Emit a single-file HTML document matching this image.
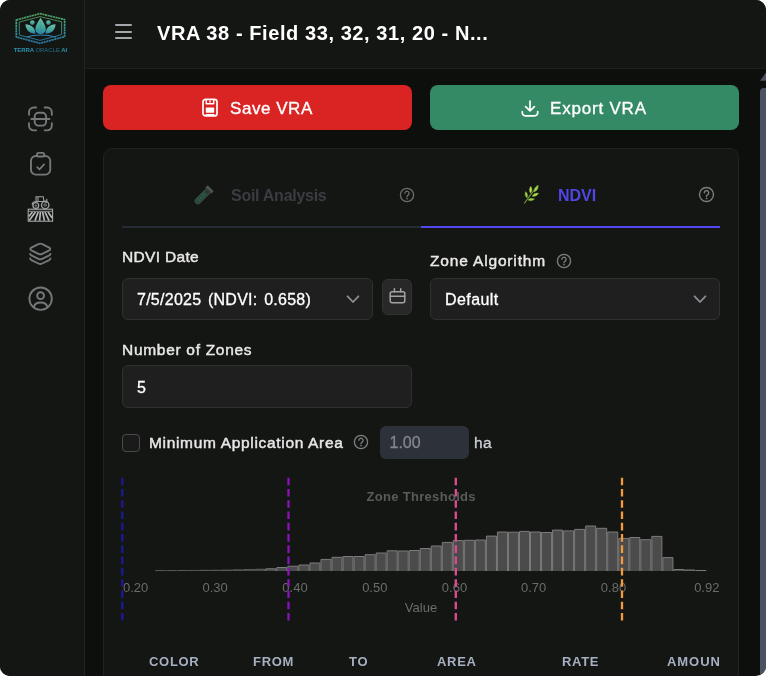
<!DOCTYPE html>
<html lang="en">
<head>
<meta charset="utf-8">
<title>VRA 38</title>
<style>
*{box-sizing:border-box;margin:0;padding:0}
html,body{width:766px;height:676px;overflow:hidden;background:#fff}
body{font-family:"Liberation Sans",sans-serif;color:#f3f4f6}
#app{position:absolute;left:0;top:0;width:766px;height:676px;border-radius:10px;overflow:hidden;background:#0d0f0d}
#side{position:absolute;left:0;top:0;width:85px;height:676px;background:#141613;border-right:1px solid #232523}
#head{position:absolute;left:85px;top:0;width:681px;height:69px;background:#141613;border-bottom:1px solid #1e201e}
#title{position:absolute;left:72px;top:21px;font-size:20px;font-weight:700;color:#fff;white-space:nowrap;line-height:24px;letter-spacing:.58px}
.burger{position:absolute;left:30px;top:24px;width:17px;height:15px}
.burger i{position:absolute;left:0;width:17px;height:2px;background:#a3a8ae;border-radius:1px}
.btn{position:absolute;top:85px;height:45px;width:309px;border-radius:8px;color:#fff;font-size:17px;font-weight:400;line-height:45px;white-space:nowrap;-webkit-text-stroke:.35px #fff}
#save{left:103px;background:#da2323}
#export{left:430px;background:#358a66}
.btn span{position:absolute;top:.7px}
#scroll{position:absolute;left:759px;top:69px;width:7px;height:607px}
#thumb{position:absolute;left:1px;top:19px;width:14px;height:600px;background:#4b5262;border-radius:4px 0 0 0}
#card{position:absolute;left:103px;top:148px;width:636px;height:560px;background:#141613;border:1px solid #212321;border-radius:9px}
.abs{position:absolute;white-space:nowrap}
.ic{fill:none;stroke:#757878;stroke-width:1.9;stroke-linecap:round;stroke-linejoin:round}
.lbl{font-size:15.5px;font-weight:400;color:#e8e8e8;line-height:18px;letter-spacing:.7px;-webkit-text-stroke:.45px #e8e8e8}
.field{position:absolute;background:#1f1f1f;border:1px solid #303030;border-radius:6px;font-size:16px;font-weight:400;color:#fff;line-height:41.6px;padding-left:14px;white-space:nowrap;letter-spacing:.43px;-webkit-text-stroke:.3px #fff}
.th{font-size:13px;font-weight:700;color:#a6b0c2;letter-spacing:.7px;line-height:16px}
</style>
</head>
<body>
<div id="app">
  <div id="side">
    <!-- logo -->
    <svg class="abs" style="left:12px;top:10px" width="60" height="46" viewBox="12 10 60 46">
      <defs><linearGradient id="lg" x1="0" y1="0" x2="0" y2="1"><stop offset="0" stop-color="#5aa860"/><stop offset=".45" stop-color="#3fae98"/><stop offset="1" stop-color="#2c7fb2"/></linearGradient>
      <linearGradient id="lf" x1="0" y1="0" x2="0" y2="1"><stop offset="0" stop-color="#7fe0c4"/><stop offset=".6" stop-color="#4cc0b4"/><stop offset="1" stop-color="#2f8fc0"/></linearGradient></defs>
      <path d="M16.3 20 L40 13.6 L64.6 19.6 L64.6 36.6 L40 43.3 L16.3 37Z" fill="none" stroke="url(#lg)" stroke-width="1.7" stroke-linejoin="round" stroke-dasharray="2.2 .5" opacity=".9"/>
      <path d="M19.3 22 L40 16.6 L61.6 21.8 L61.6 34.6 L40 40.4 L19.3 35Z" fill="none" stroke="url(#lg)" stroke-width=".8" stroke-linejoin="round"/>
      <g fill="url(#lf)" opacity=".85">
        <path d="M40.6 17.8 C42.5 21 45.8 25.5 45.8 29.3 C45.8 32.4 43.6 34 40.6 34 C37.6 34 35.4 32.4 35.4 29.3 C35.4 25.5 38.7 21 40.6 17.8Z"/>
        <path d="M55.6 24.2 C55.2 30 51.5 33.6 45.6 33.8 C45.6 28 49.5 24.5 55.6 24.2Z"/>
        <path d="M25.4 24.2 C25.8 30 29.5 33.6 35.4 33.8 C35.4 28 31.5 24.5 25.4 24.2Z"/>
        <circle cx="32.3" cy="22.6" r="2.3"/><circle cx="48.4" cy="22.6" r="2.3"/>
      </g>
      <path d="M40.6 21v11M38 28l2.6 2 2.6-2M38.4 25l2.2 1.7 2.2-1.7" fill="none" stroke="#2a8f8a" stroke-width=".5" opacity=".7"/>
      <path d="M26.5 37 C35 34.3 47 34.3 56 37.2" fill="none" stroke="#2f86b4" stroke-width="1.2"/>
      <text x="13.7" y="51.7" font-family="Liberation Sans, sans-serif" font-size="5.6" fill="#2b93b4" font-weight="700" textLength="53.5" lengthAdjust="spacingAndGlyphs">TERRA <tspan font-weight="400" fill="#23708f">ORACLE</tspan> AI</text>
    </svg>
    <!-- scan -->
    <svg class="abs ic" style="left:27px;top:105px" width="28" height="28" viewBox="0 0 28 28"><g transform="translate(.1 .65) scale(.95)" stroke-width="2">
      <path d="M9.5 2H7a5 5 0 0 0-5 5v2.5M18.5 2H21a5 5 0 0 1 5 5v2.5M9.5 26H7a5 5 0 0 1-5-5v-2.5M18.5 26H21a5 5 0 0 0 5-5v-2.5"/>
      <rect x="8" y="7.5" width="12" height="13.5" rx="4"/>
      <path d="M4.5 14h19"/>
    </g></svg>
    <!-- clipboard -->
    <svg class="abs ic" style="left:27px;top:150px" width="28" height="28" viewBox="0 0 28 28">
      <path d="M10 5.95H8.9a4.95 4.95 0 0 0-4.95 4.95v8.8a4.95 4.95 0 0 0 4.95 4.95h9.4a4.95 4.95 0 0 0 4.95-4.95v-8.8a4.95 4.95 0 0 0-4.95-4.95H17.2"/>
      <rect x="10" y="2.9" width="7.2" height="3.6" rx="1.6"/>
      <path d="M10.2 17.1l2.3 2.2 4.6-4.9" stroke-width="1.7"/>
    </svg>
    <!-- tractor -->
    <svg class="abs" style="left:27px;top:194px" width="28" height="28" viewBox="0 0 28 28" fill="none" stroke="#9a9e9e" stroke-width="1">
      <rect x="1.2" y="15.2" width="24.4" height="12" stroke-width="1.1" stroke="#a4a8a8"/>
      <path d="M1.2 17.3h24.4" stroke-width=".9"/>
      <path d="M8.5 18L2.2 26.6M11.2 18L8 26.6M13.4 18L12.6 26.6M15.6 18L17.4 26.6M18 18L22 26.6M5.5 18L1.8 22.5M21 18L25.2 24" stroke="#b4b8b8" stroke-width="1.7"/>
      <path d="M9 7.5V2.8h7.3l.6 5M11 2.8v4.7M5.2 11c0-2.3 1.5-3.5 4-3.5h7.5l3 1" stroke-width="1.1"/>
      <path d="M19.8 4.8v4" stroke-width="1.1"/>
      <circle cx="8.8" cy="11.6" r="2.9" stroke-width="1.3"/><circle cx="8.8" cy="11.6" r=".8" stroke-width=".8"/>
      <circle cx="18.2" cy="11" r="3.7" stroke-width="1.4"/><circle cx="18.2" cy="11" r="1.2" stroke-width=".8"/>
    </svg>
    <!-- layers -->
    <svg class="abs ic" style="left:27px;top:240px" width="28" height="28" viewBox="0 0 28 28"><g transform="translate(.14 .5) scale(.94)" stroke-width="2">
      <path d="M12 3.8a4.5 4.5 0 0 1 4 0l7.5 3.7c1.5.8 1.5 2.2 0 3L16 14.2a4.5 4.5 0 0 1-4 0L4.5 10.5c-1.5-.8-1.5-2.2 0-3z"/>
      <path d="M3.2 14.2c0 .6.4 1.1 1.3 1.6L12 19.5a4.5 4.5 0 0 0 4 0l7.5-3.7c.9-.5 1.3-1 1.3-1.6"/>
      <path d="M3.2 19.2c0 .6.4 1.1 1.3 1.6L12 24.5a4.5 4.5 0 0 0 4 0l7.5-3.7c.9-.5 1.3-1 1.3-1.6"/>
    </g></svg>
    <!-- user -->
    <svg class="abs ic" style="left:27px;top:284px" width="28" height="28" viewBox="0 0 28 28"><g transform="translate(.6 .94) scale(.949)" stroke-width="2">
      <circle cx="13.7" cy="14.5" r="11.8"/>
      <circle cx="13.7" cy="11.3" r="3.6"/>
      <path d="M6.5 23.5c.7-3.2 3.6-5 7.2-5s6.5 1.8 7.2 5"/>
    </g></svg>
  </div>
  <div id="head">
    <div class="burger"><i style="top:0"></i><i style="top:7px"></i><i style="top:13px"></i></div>
    <div id="title">VRA 38 - Field 33, 32, 31, 20 - N...</div>
  </div>
  <div id="save" class="btn"><svg class="abs" style="left:98px;top:12px" width="18" height="21" viewBox="0 0 18 21" fill="none" stroke="#fff" stroke-width="1.7" stroke-linejoin="round"><rect x="2" y="2.3" width="14" height="16.6" rx="2.5"/><path d="M5.3 2.5v4.3h7.4V2.5M9 3.5v2" stroke-width="1.5"/><rect x="4.8" y="10.5" width="8.4" height="5.2" rx=".8" fill="#fff" stroke="none"/><path d="M4.5 17.6h9" stroke-width="1.1"/></svg><span style="left:127px;letter-spacing:.55px">Save VRA</span></div>
  <div id="export" class="btn"><svg class="abs" style="left:90px;top:13.5px" width="20" height="19" viewBox="0 0 20 19" fill="none" stroke="#fff" stroke-width="1.7" stroke-linecap="round" stroke-linejoin="round"><path d="M10 2v9.5M5.6 7.6L10 11.8l4.4-4.2M2.3 12.5v1.3a3 3 0 0 0 3 3h9.4a3 3 0 0 0 3-3v-1.3"/></svg><span style="left:120px;letter-spacing:.8px">Export VRA</span></div>
  <div id="scroll"><svg class="abs" style="left:0;top:3px" width="7" height="10"><path d="M1 8.7 L6.6 1 L7 1 L7 8.7Z" fill="#4b5262"/></svg><div id="thumb"></div></div>
  <div id="card"></div>

  <!-- tabs -->
  <div class="abs" style="left:122px;top:226px;width:299px;height:2px;background:#252b33"></div>
  <div class="abs" style="left:421px;top:226px;width:299px;height:2px;background:#5347f0"></div>
  <div class="abs" style="left:231px;top:187px;font-size:16px;font-weight:700;color:#3b3d42;line-height:18px;letter-spacing:-.27px">Soil Analysis</div>
  <div class="abs" style="left:558px;top:187px;font-size:16px;font-weight:700;color:#4f46e5;line-height:18px">NDVI</div>


  <!-- tab icons -->
  <svg class="abs" style="left:188px;top:183px;opacity:.5" width="28" height="28" viewBox="0 0 28 28"><g transform="rotate(45 14 14)"><path d="M10.3 2.2h7.4v2.2h-1v15.4a2.7 2.7 0 0 1-5.4 0V4.4h-1z" fill="#3a5a4e" stroke="#7b858c" stroke-width="1"/><path d="M12.1 8.5h3.8v11.2a1.9 1.9 0 0 1-3.8 0z" fill="#2f8a62"/><path d="M12.2 10.5h3.6M12.2 13h3.6M12.2 15.5h3.6M12.2 18h3.6" stroke="#9cc9b0" stroke-width=".8" stroke-dasharray="1 .9"/><path d="M10.3 3.3h7.4" stroke="#8d979e" stroke-width="2"/></g></svg>
  <svg class="abs" style="left:521px;top:183px" width="20" height="22" viewBox="0 0 20 22"><path d="M3.2 20.5C7 15 11 9.5 17 2.6" stroke="#6f9a3a" stroke-width="1.1" fill="none"/><g fill="#9fd24a" stroke="#5f8f2e" stroke-width=".5"><path d="M17.2 2.2c.3 3.2-1 5.6-4.2 6.9C12.6 6 14.2 3.4 17.2 2.2z"/><path d="M9.8 3.2c1.7 2.3 1.7 5-.3 7.1C7.8 8.1 7.9 5.3 9.8 3.2z" fill="#c7dd55"/><path d="M4.6 8.6c2 1.6 2.6 4 1.4 6.4C4 13.5 3.4 11 4.6 8.6z"/><path d="M17.6 10.2c-1.4 2.6-3.7 3.7-6.6 3.1C12.3 10.8 14.6 9.7 17.6 10.2z" fill="#b5d84e"/><path d="M13.6 16c-2 1.9-4.4 2.3-6.8 1C8.6 15.2 11 14.8 13.6 16z"/></g></svg>
  <svg class="abs" style="left:399px;top:187px" width="16" height="16" viewBox="0 0 16 16" fill="none" stroke="#6a6d6d" stroke-width="1.3" stroke-linecap="round"><circle cx="8" cy="8" r="6.6"/><path d="M5.9 6.3a2.1 2.1 0 1 1 3.3 1.8c-.8.5-1.2.9-1.2 1.7"/><circle cx="8" cy="11.7" r=".5" fill="#6a6d6d" stroke-width=".6"/></svg><svg class="abs" style="left:698px;top:186px" width="17" height="17" viewBox="0 0 16 16" fill="none" stroke="#7c7f7f" stroke-width="1.3" stroke-linecap="round"><circle cx="8" cy="8" r="6.6"/><path d="M5.9 6.3a2.1 2.1 0 1 1 3.3 1.8c-.8.5-1.2.9-1.2 1.7"/><circle cx="8" cy="11.7" r=".5" fill="#7c7f7f" stroke-width=".6"/></svg><svg class="abs" style="left:556px;top:253px" width="16" height="16" viewBox="0 0 16 16" fill="none" stroke="#7c7f7f" stroke-width="1.3" stroke-linecap="round"><circle cx="8" cy="8" r="6.6"/><path d="M5.9 6.3a2.1 2.1 0 1 1 3.3 1.8c-.8.5-1.2.9-1.2 1.7"/><circle cx="8" cy="11.7" r=".5" fill="#7c7f7f" stroke-width=".6"/></svg><svg class="abs" style="left:353px;top:434px" width="16" height="16" viewBox="0 0 16 16" fill="none" stroke="#7c7f7f" stroke-width="1.3" stroke-linecap="round"><circle cx="8" cy="8" r="6.6"/><path d="M5.9 6.3a2.1 2.1 0 1 1 3.3 1.8c-.8.5-1.2.9-1.2 1.7"/><circle cx="8" cy="11.7" r=".5" fill="#7c7f7f" stroke-width=".6"/></svg>
  <!-- form -->
  <div class="abs lbl" style="left:122px;top:248px;letter-spacing:.32px">NDVI Date</div>
  <div class="field" style="left:122px;top:278px;width:251px;height:42px;letter-spacing:.26px;word-spacing:1.9px">7/5/2025 (NDVI: 0.658)</div>
  <div class="abs" style="left:382px;top:279px;width:30px;height:36px;background:#282828;border:1px solid #323232;border-radius:6px"></div>
  <div class="abs lbl" style="left:430px;top:252px;letter-spacing:.84px">Zone Algorithm</div>
  <div class="field" style="left:430px;top:278px;width:290px;height:42px">Default</div>
  <div class="abs lbl" style="left:122px;top:341px">Number of Zones</div>
  <div class="field" style="left:122px;top:365px;width:290px;height:43px;line-height:43px">5</div>

  <div class="abs" style="left:122px;top:434px;width:18px;height:18px;border:1px solid #4a4a4a;border-radius:4px;background:#1a1a1a"></div>
  <div class="abs lbl" style="left:149px;top:434px;letter-spacing:.675px">Minimum Application Area</div>
  <div class="abs" style="left:380px;top:426px;width:89px;height:33px;background:#2d3139;border-radius:6px;font-size:16px;color:#85878b;-webkit-text-stroke:.3px #85878b;line-height:33px;padding-left:9.5px">1.00</div>
  <div class="abs" style="left:474px;top:434px;font-size:15.5px;color:#cdd1d7;-webkit-text-stroke:.3px #cdd1d7;line-height:18px;letter-spacing:.3px">ha</div>

  <!-- chevrons / calendar -->
  <svg class="abs" style="left:345px;top:293px" width="16" height="12" viewBox="0 0 16 12" fill="none" stroke="#8b8f94" stroke-width="1.8" stroke-linecap="round" stroke-linejoin="round"><path d="M2.6 3.3L8 9l5.4-5.7"/></svg>
  <svg class="abs" style="left:692px;top:293px" width="16" height="12" viewBox="0 0 16 12" fill="none" stroke="#8b8f94" stroke-width="1.8" stroke-linecap="round" stroke-linejoin="round"><path d="M2.6 3.3L8 9l5.4-5.7"/></svg>
  <svg class="abs" style="left:388px;top:287px" width="19" height="18" viewBox="0 0 19 18" fill="none" stroke="#a3a3a3" stroke-width="1.5" stroke-linejoin="round"><rect x="2.2" y="4.8" width="14.6" height="11" rx="2"/><path d="M2.5 9.2h14M6.4 1.8v3M12.7 1.8v3" stroke-linecap="round"/></svg>

  <!-- chart -->
  <svg class="abs" style="left:103px;top:470px" width="636" height="160" viewBox="103 470 636 160" font-family="Liberation Sans, sans-serif">
    <text x="421.2" y="500.7" font-size="13" font-weight="700" fill="#595b59" text-anchor="middle" letter-spacing=".3">Zone Thresholds</text>
    <g id="bars" fill="#4b4b4b" stroke="#7c7c7c" stroke-width="1"><path d="M155.50 571V570.6h10.03V571M166.53 571V570.6h10.03V571M177.56 571V570.5h10.03V571M188.59 571V570.4h10.03V571M199.62 571V570.3h10.03V571M210.65 571V570.2h10.03V571M221.68 571V570.0h10.03V571M232.71 571V569.8h10.03V571M243.74 571V569.5h10.03V571M254.77 571V569.2h10.03V571" stroke-opacity=".55"/><path d="M265.80 571V568.8h10.03V571M276.83 571V567.5h10.03V571M287.86 571V566.2h10.03V571M298.89 571V565.0h10.03V571M309.92 571V563.0h10.03V571M320.95 571V559.4h10.03V571M331.98 571V557.3h10.03V571M343.01 571V556.5h10.03V571M354.04 571V556.5h10.03V571M365.07 571V554.7h10.03V571M376.10 571V553.0h10.03V571M387.13 571V550.8h10.03V571M398.16 571V551.0h10.03V571M409.19 571V550.5h10.03V571M420.22 571V548.5h10.03V571M431.25 571V546.0h10.03V571M442.28 571V542.4h10.03V571M453.31 571V540.6h10.03V571M464.34 571V540.3h10.03V571M475.37 571V540.0h10.03V571M486.40 571V536.1h10.03V571M497.43 571V532.0h10.03V571M508.46 571V532.2h10.03V571M519.49 571V531.4h10.03V571M530.52 571V532.0h10.03V571M541.55 571V532.5h10.03V571M552.58 571V530.1h10.03V571M563.61 571V530.9h10.03V571M574.64 571V529.4h10.03V571M585.67 571V526.0h10.03V571M596.70 571V528.3h10.03V571M607.73 571V532.0h10.03V571M618.76 571V538.4h10.03V571M629.79 571V537.5h10.03V571M640.82 571V539.7h10.03V571M651.85 571V536.4h10.03V571M662.88 571V557.6h10.03V571M673.91 571V569.5h10.03V571M684.94 571V570.0h10.03V571M695.97 571V570.5h10.03V571"/></g>
    <g font-size="13" fill="#6a6c6a" text-anchor="middle">
      <text x="135.6" y="592">0.20</text><text x="215.1" y="592">0.30</text><text x="295" y="592">0.40</text><text x="374.8" y="592">0.50</text>
      <text x="454.5" y="592">0.60</text><text x="533.7" y="592">0.70</text><text x="613.5" y="592">0.80</text><text x="706.8" y="592">0.92</text>
      <text x="421" y="612">Value</text>
    </g>
    <g stroke-width="2.3" stroke-dasharray="7.6 3.67" fill="none">
      <line x1="122.3" y1="477.7" x2="122.3" y2="621.3" stroke="#1a1a98"/>
      <line x1="288.5" y1="477.7" x2="288.5" y2="621.3" stroke="#8a12bc"/>
      <line x1="455.8" y1="477.7" x2="455.8" y2="621.3" stroke="#e24a8d"/>
      <line x1="622" y1="477.7" x2="622" y2="621.3" stroke="#f39a3c"/>
    </g>
  </svg>

  <!-- table header -->
  <div class="abs th" style="left:149px;top:654px">COLOR</div>
  <div class="abs th" style="left:253px;top:654px">FROM</div>
  <div class="abs th" style="left:349px;top:654px">TO</div>
  <div class="abs th" style="left:437px;top:654px">AREA</div>
  <div class="abs th" style="left:562px;top:654px">RATE</div>
  <div class="abs th" style="left:667px;top:654px;width:53px;overflow:hidden;letter-spacing:.95px">AMOUNT</div>
</div>
</body>
</html>
